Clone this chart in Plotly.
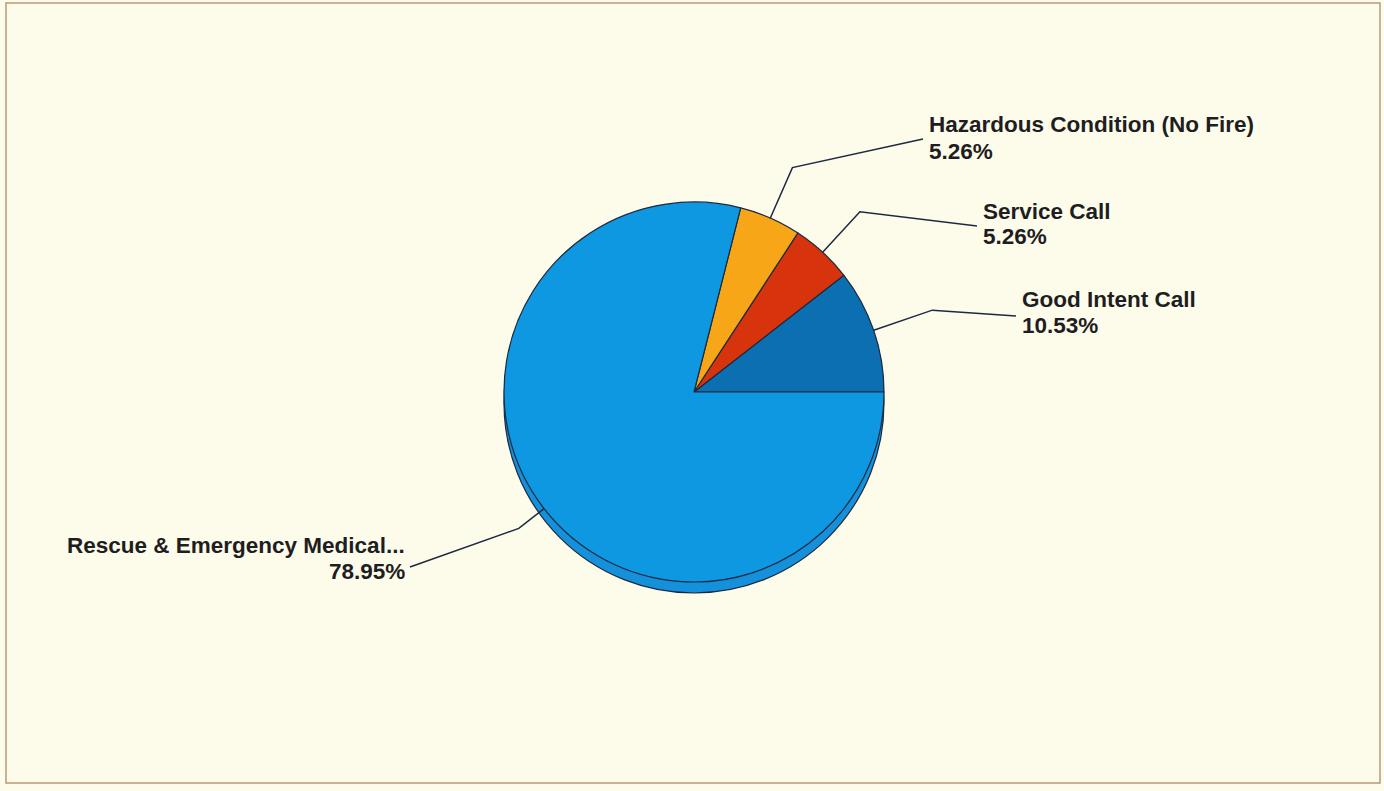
import math
import plotly.graph_objects as go

# ---- data ----
categories = ["Good Intent Call", "Service Call", "Hazardous Condition (No Fire)", "Rescue & Emergency Medical..."]
values = [10.53, 5.26, 5.26, 78.95]
colors = ["#0B6FB2", "#D7340E", "#F6A616", "#0E98E2"]

# label placement (layout, pixels): (x, y of text block, anchor side, leader end y offset)
label_pos = [(1020, 299, "left", 17), (981, 211, "left", 15), (927, 125, "left", 14), (407, 545, "right", 22)]
elbow_ext = [62, 55, 55, 32]

W, H = 1384, 791
CX, CY, R = 694, 392, 190
DEPTH = 11
BG = "#FDFBEA"
LINE = "#1B2A40"


def px(x):
    return x / W


def py(y):
    return 1 - y / H


total = sum(values)
# plotly's counterclockwise pies end the first slice at `rotation`; shift so it starts at 3 o'clock
rotation = 90 - values[0] / total * 360

fig = go.Figure()

# side / depth of the pie (drawn behind)
fig.add_trace(go.Pie(
    values=[total], labels=["depth"], sort=False,
    marker=dict(colors=["#1590DA"], line=dict(color=LINE, width=1.2)),
    textinfo="none", hoverinfo="skip", showlegend=False,
    domain=dict(x=[px(CX - R), px(CX + R)], y=[py(CY + DEPTH + R), py(CY + DEPTH - R)]),
))

# top face
fig.add_trace(go.Pie(
    values=values, labels=categories, sort=False,
    direction="counterclockwise", rotation=rotation,
    marker=dict(colors=colors, line=dict(color=LINE, width=1.2)),
    textinfo="none", showlegend=False,
    hovertemplate="%{label}: %{percent}<extra></extra>",
    domain=dict(x=[px(CX - R), px(CX + R)], y=[py(CY + R), py(CY - R)]),
))

shapes = []
annotations = []
cum = 0.0
for name, v, (lx, ly, side, endoff), ext in zip(categories, values, label_pos, elbow_ext):
    mid = (cum + v / 2) / total * 2 * math.pi
    cum += v
    sx, sy = CX + R * math.cos(mid), CY - R * math.sin(mid)
    ex, ey = CX + (R + ext) * math.cos(mid), CY - (R + ext) * math.sin(mid)
    tx = lx - 4 if side == "left" else lx + 3
    ty = ly + endoff
    path = f"M {px(sx)} {py(sy)} L {px(ex)} {py(ey)} L {px(tx)} {py(ty)}"
    shapes.append(dict(type="path", xref="paper", yref="paper", path=path,
                       line=dict(color=LINE, width=1.5)))
    pct = f"{v / total * 100:.2f}%"
    for txt, yy in ((name, ly), (pct, ly + 26)):
        annotations.append(dict(
            text=f"<b>{txt}</b>", x=px(lx), y=py(yy), xref="paper", yref="paper",
            xanchor=side, yanchor="middle", showarrow=False,
            align=side, font=dict(family="Liberation Sans, Arial", size=22.5, color="#1E1E22"),
        ))

# outer frame
shapes.append(dict(type="rect", xref="paper", yref="paper",
                   x0=px(6), x1=px(1380), y0=py(783), y1=py(3),
                   line=dict(color="#B89A78", width=1.5), fillcolor="rgba(0,0,0,0)", layer="below"))

fig.update_layout(
    width=W, height=H,
    margin=dict(l=0, r=0, t=0, b=0),
    paper_bgcolor=BG, plot_bgcolor=BG,
    shapes=shapes, annotations=annotations,
    showlegend=False,
)

fig.write_html("out.html", config={"displayModeBar": False})
